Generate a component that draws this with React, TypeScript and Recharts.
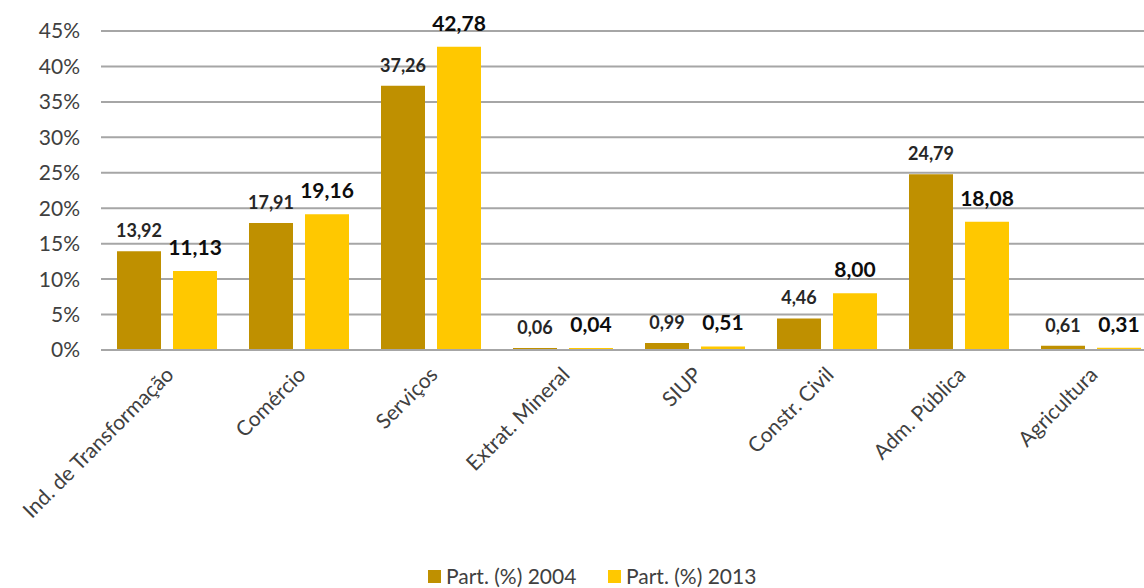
import React from 'react';
import { BarChart, Bar, XAxis, YAxis, CartesianGrid, LabelList } from 'recharts';

const categories = [
  'Ind. de Transformação',
  'Comércio',
  'Serviços',
  'Extrat. Mineral',
  'SIUP',
  'Constr. Civil',
  'Adm. Pública',
  'Agricultura',
];
const part2004 = [13.92, 17.91, 37.26, 0.06, 0.99, 4.46, 24.79, 0.61];
const part2013 = [11.13, 19.16, 42.78, 0.04, 0.51, 8.0, 18.08, 0.31];
const yTicks = [0, 5, 10, 15, 20, 25, 30, 35, 40, 45];

const data = categories.map((name, i) => ({ name, p2004: part2004[i], p2013: part2013[i] }));

const FONT = 'Lato, "Open Sans", sans-serif';
const C2004 = '#BF9000';
const C2013 = '#FFC800';

const fmt = (v: number) => v.toFixed(2).replace('.', ',');

const CatTick = (props: any) => {
  const { x, y, payload } = props;
  const ax = x + 8;
  const ay = y + 18;
  return (
    <text
      x={ax}
      y={ay}
      textAnchor="end"
      fill="#404040"
      fontSize={21}
      fontFamily={FONT}
      transform={`rotate(-45, ${ax}, ${ay})`}
    >
      {payload.value}
    </text>
  );
};

const LegendBox = () => (
  <g fontFamily={FONT} fontSize={21} fill="#404040">
    <rect x={428} y={570} width={13} height={13} fill={C2004} />
    <text x={446} y={584}>Part. (%) 2004</text>
    <rect x={608} y={570} width={13} height={13} fill={C2013} />
    <text x={626} y={584}>Part. (%) 2013</text>
  </g>
);

export default function App() {
  return (
    <div style={{ position: 'absolute', left: 0, top: 0, width: 1144, height: 588, overflow: 'hidden', background: '#fff' }}>
      <BarChart
        width={1157}
        height={588}
        data={data}
        margin={{ top: 31, right: 0, left: 0, bottom: 38 }}
        barGap={12}
        barSize={44}
      >
        <CartesianGrid vertical={false} stroke="#a6a6a6" strokeWidth={2} />
        <YAxis
          domain={[0, 45]}
          ticks={yTicks}
          interval={0}
          width={101}
          tickFormatter={(v: number) => `${v}%`}
          axisLine={false}
          tickLine={false}
          tickSize={0}
          tickMargin={21}
          tick={{ fill: '#404040', fontSize: 21, fontFamily: FONT }}
        />
        <XAxis
          dataKey="name"
          interval={0}
          height={200}
          axisLine={{ stroke: '#a6a6a6', strokeWidth: 2 }}
          tickLine={false}
          tick={<CatTick />}
        />
        <Bar dataKey="p2004" fill={C2004} isAnimationActive={false} minPointSize={2}>
          <LabelList
            dataKey="p2004"
            position="top"
            offset={14}
            formatter={fmt}
            fill="#262626"
            fontSize={18}
            fontWeight={700}
            fontFamily={FONT}
          />
        </Bar>
        <Bar dataKey="p2013" fill={C2013} isAnimationActive={false} minPointSize={2}>
          <LabelList
            dataKey="p2013"
            position="top"
            offset={16}
            formatter={fmt}
            fill="#0d0d0d"
            fontSize={21}
            fontWeight={700}
            fontFamily={FONT}
          />
        </Bar>
        <LegendBox />
      </BarChart>
    </div>
  );
}
